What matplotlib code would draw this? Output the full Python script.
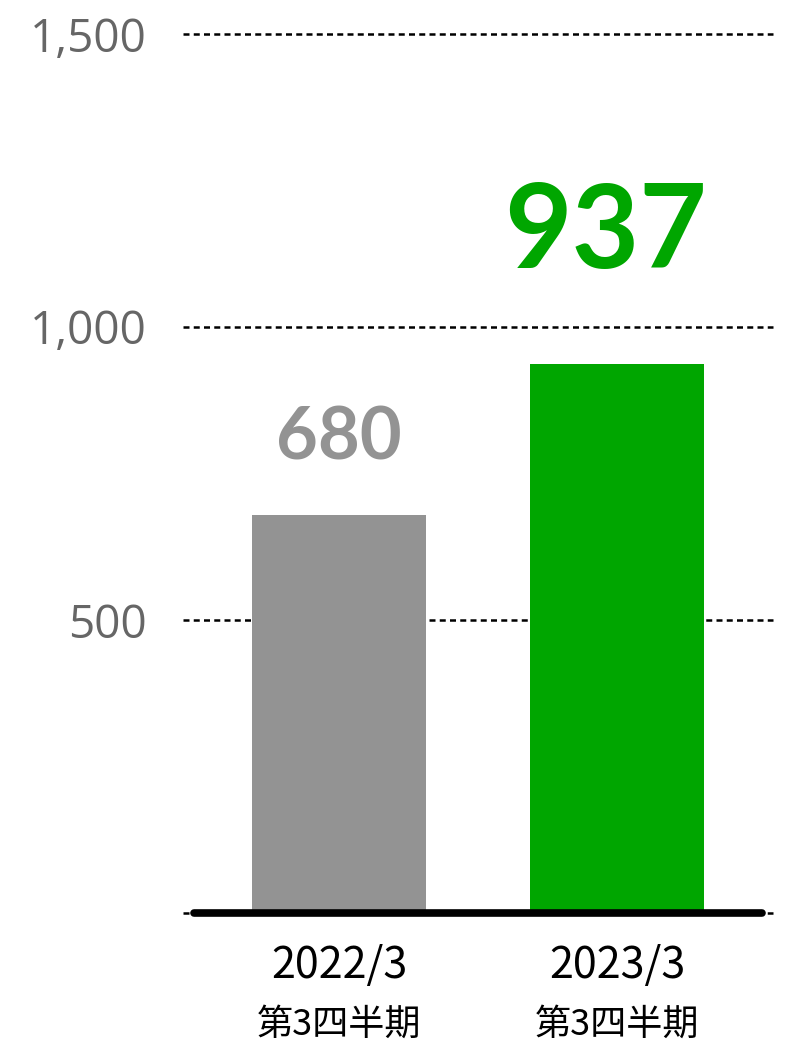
import matplotlib
matplotlib.use("Agg")
import matplotlib.pyplot as plt

categories = ["2022/3\n第3四半期", "2023/3\n第3四半期"]
values = [680, 937]
labels = ["680", "937"]
bar_colors = ["#939393", "#00a600"]
yticks = [500, 1000, 1500]
ytick_labels = ["500", "1,000", "1,500"]

plt.rcParams['font.family'] = ['Noto Sans CJK JP', 'DejaVu Sans']

fig = plt.figure(figsize=(7.9, 10.42), dpi=100)
ax = fig.add_axes([183/790, 129/1042, 590/790, 879/1042])

x = [0, 1]
ax.set_xlim(-0.561, 1.561)
ax.set_ylim(0, 1500)

# dotted grid lines behind the bars
for y in [0] + yticks:
    ax.axhline(y, color='black', lw=1.8, ls=(0, (2.4, 1.7)), zorder=0, clip_on=False)

ax.bar(x, values, width=0.626, color=bar_colors, zorder=2)

# thick base line
ax.hlines(0, -0.522, 1.522, color='black', lw=5.5, capstyle='round', zorder=3,
          clip_on=False)

# value labels
ax.text(x[0], values[0] + 94, labels[0], ha='center', va='baseline',
        fontsize=52, fontweight='bold', color=bar_colors[0], family='Lato')
ax.text(x[1] - 0.043, values[1] + 163, labels[1], ha='center', va='baseline',
        fontsize=84, fontweight='bold', color=bar_colors[1], family='Lato')

ax.set_yticks(yticks)
ax.set_yticklabels(ytick_labels, fontsize=33, color='#666666', family='Open Sans')
ax.tick_params(axis='y', length=0, pad=26)
ax.set_xticks([])

# category labels under the bars
for xi, cat in zip(x, categories):
    top, bottom = cat.split("\n")
    ax.text(xi, -90, top, ha='center', va='center', fontsize=31, color='black',
            clip_on=False)
    ax.text(xi, -190, bottom, ha='center', va='center', fontsize=26, color='black',
            clip_on=False)

for s in ax.spines.values():
    s.set_visible(False)

fig.savefig("out.png", dpi=100)
